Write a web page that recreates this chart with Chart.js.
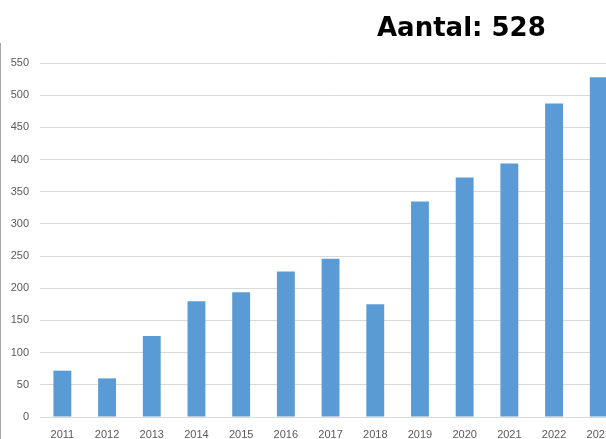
<!DOCTYPE html>
<html lang="nl">
<head>
  <meta charset="UTF-8" />
  <title>Aantal per jaar</title>
  <script src="https://cdn.jsdelivr.net/npm/chart.js"></script>
  <style>
    body {
      margin: 0;
      background: #fff;
      width: 606px;
      height: 439px;
      overflow: hidden;
      position: relative;
    }

    #frame {
      position: absolute;
      left: 0;
      top: 43px;
      width: 1px;
      height: 400px;
      background: #a6a6a6;
    }

    #title {
      position: absolute;
      left: 377px;
      top: 14px;
      font-family: 'DejaVu Sans', sans-serif;
      font-weight: bold;
      font-size: 26px;
      line-height: 26px;
      color: #000;
      white-space: nowrap;
    }

    #wrap {
      position: absolute;
      left: 0;
      top: 0;
      width: 622px;
      height: 447px;
    }
  </style>
</head>
<body>
  <div id="frame"></div>
  <div id="wrap"><canvas id="chart"></canvas></div>
  <div id="title">Aantal: 528</div>

  <script>
    const years = ['2011', '2012', '2013', '2014', '2015', '2016', '2017',
                   '2018', '2019', '2020', '2021', '2022', '2023'];
    const counts = [72, 60, 126, 180, 194, 226, 246, 175, 335, 372, 394, 487, 528];

    const Y_MAX = 550;
    const Y_STEP = 50;

    const labelColor = '#595959';
    const gridColor = '#d9d9d9';
    const barColor = '#5b9bd5';

    new Chart(document.getElementById('chart'), {
      type: 'bar',
      data: {
        labels: years,
        datasets: [{
          label: 'Aantal',
          data: counts,
          backgroundColor: barColor,
          borderWidth: 0,
          categoryPercentage: 0.8,
          barPercentage: 0.5
        }]
      },
      options: {
        responsive: true,
        maintainAspectRatio: false,
        animation: false,
        layout: { padding: { top: 63, right: 0, bottom: 0, left: 0 } },
        plugins: {
          legend: { display: false },
          tooltip: { enabled: false }
        },
        scales: {
          x: {
            grid: { display: false, drawTicks: false },
            border: { display: false },
            ticks: {
              color: labelColor,
              font: { family: "'Liberation Sans', sans-serif", size: 11 },
              padding: 11,
              maxRotation: 0,
              autoSkip: false
            },
            afterFit(scale) { scale.height = 30; }
          },
          y: {
            min: 0,
            max: Y_MAX,
            grid: { color: gridColor, lineWidth: 1, drawTicks: false },
            border: { display: false },
            ticks: {
              stepSize: Y_STEP,
              color: labelColor,
              font: { family: "'Liberation Sans', sans-serif", size: 11 },
              padding: 11
            },
            afterFit(scale) { scale.width = 40; }
          }
        }
      }
    });
  </script>
</body>
</html>
